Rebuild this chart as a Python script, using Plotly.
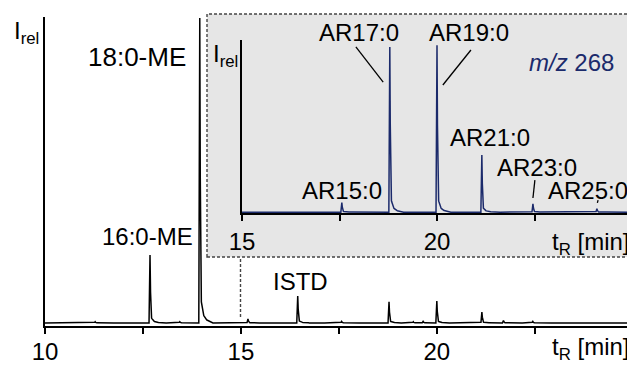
import numpy as np
import plotly.graph_objects as go

# ---------------- data ----------------
# main chromatogram (TIC), retention time [min] and relative peak height
main_rt = [11.28, 12.68, 13.44, 13.95, 15.18, 16.45, 17.57, 18.78, 19.40, 19.65, 20.00, 21.15, 21.70, 22.45]
main_h = [0.004, 0.220, 0.004, 0.987, 0.013, 0.087, 0.005, 0.068, 0.004, 0.005, 0.071, 0.035, 0.008, 0.005]
main_base = 0.010
main_labels = ["16:0-ME", "18:0-ME", "ISTD"]

# inset: m/z 268 trace
ins_rt = [17.56, 18.79, 20.00, 21.15, 22.46, 24.10]
ins_h = [0.055, 0.955, 0.965, 0.330, 0.048, 0.020]
ins_base = 0.005
ins_labels = ["AR15:0", "AR17:0", "AR19:0", "AR21:0", "AR23:0", "AR25:0"]

main_ticks = [10, 15, 20]
main_ticktext = ["10", "15", "20"]
main_minor = [12.5, 17.5, 22.5]
ins_ticks = [15, 20]
ins_ticktext = ["15", "20"]
ins_minor = [17.5, 22.5]

# ---------------- peak rendering (tailing peak profile) ----------------
prof_dx = [-0.025, 0.0, 0.02, 0.04, 0.08, 0.15, 0.30]
prof_f = [0.0, 1.0, 0.18, 0.07, 0.03, 0.012, 0.0]


def chromatogram(t0, t1, rts, hs, base):
    grid = [np.linspace(t0, t1, 3000)]
    for rt in rts:
        grid.append(np.array([rt + d for d in prof_dx]))
    x = np.unique(np.concatenate(grid))
    x = x[(x >= t0) & (x <= t1)]
    y = np.full_like(x, base)
    for rt, h in zip(rts, hs):
        y += h * np.interp(x - rt, prof_dx, prof_f, left=0, right=0)
    return x, y


OFF = 8  # the page body adds an 8px margin; figure is shrunk so it fits the window
W, H = 635 - OFF, 365 - OFF
FONT = "Liberation Sans, Arial, Helvetica, sans-serif"
NAVY = "#1b2a6b"
DASH = dict(color="#444444", width=1.4, dash="3px,2px")


def px(x):
    return (x - OFF) / W


def py(y):
    return (H - (y - OFF)) / H


mx, my = chromatogram(10, 24.93, main_rt, main_h, main_base)
ix, iy = chromatogram(15, 25.0, ins_rt, ins_h, ins_base)

fig = go.Figure()
fig.add_trace(go.Scatter(x=mx, y=my, mode="lines", line=dict(color="black", width=1.5),
                         xaxis="x", yaxis="y", hoverinfo="skip"))
fig.add_trace(go.Scatter(x=ix, y=iy, mode="lines", line=dict(color=NAVY, width=1.5),
                         xaxis="x2", yaxis="y2", hoverinfo="skip"))

axis_common = dict(showgrid=False, zeroline=False, showline=True, linecolor="black",
                   linewidth=2, fixedrange=True, automargin=False)
tick_style = dict(ticks="outside", ticklen=6, tickwidth=2, tickcolor="black")

fig.update_layout(
    template="none",
    width=W, height=H,
    margin=dict(l=0, r=0, t=0, b=0, pad=0, autoexpand=False),
    paper_bgcolor="white", plot_bgcolor="rgba(0,0,0,0)",
    showlegend=False,
    font=dict(family=FONT, size=24, color="black"),
    xaxis=dict(domain=[px(45), px(630)], range=[10, 24.93], anchor="y",
               tickvals=main_ticks, ticktext=main_ticktext, ticklabelstandoff=-3,
               minor=dict(tickvals=main_minor, showgrid=False, **tick_style),
               tickfont=dict(size=24, family=FONT), **tick_style, **axis_common),
    yaxis=dict(domain=[py(326), py(17)], range=[0, 1.0], anchor="x",
               showticklabels=False, ticks="", **axis_common),
    xaxis2=dict(domain=[px(242), px(632)], range=[15, 25.0], anchor="y2",
                tickvals=ins_ticks, ticktext=ins_ticktext,
                minor=dict(tickvals=ins_minor, showgrid=False, **tick_style),
                tickfont=dict(size=24, family=FONT), **tick_style, **axis_common),
    yaxis2=dict(domain=[py(213), py(40)], range=[0, 1.0], anchor="x2",
                showticklabels=False, ticks="", **axis_common),
)

# inset box and zoom guide lines
fig.add_shape(type="rect", xref="paper", yref="paper",
              x0=px(207), x1=px(633), y0=py(257), y1=py(14),
              fillcolor="#e6e6e6", line=DASH, layer="below")
for xp in (240.5, 628):
    fig.add_shape(type="line", xref="paper", yref="paper", x0=px(xp), x1=px(xp),
                  y0=py(317), y1=py(257), line=DASH, layer="above")

# leader lines in the inset
leaders = [((17.92, 0.96), (18.62, 0.757), "solid"),
           ((20.87, 0.942), (20.15, 0.74), "solid"),
           ((22.51, 0.19), (22.46, 0.087), "solid"),
           ((24.13, 0.075), (24.10, 0.046), "dot")]
for (x0, y0), (x1, y1), d in leaders:
    fig.add_shape(type="line", xref="x2", yref="y2", x0=x0, y0=y0, x1=x1, y1=y1,
                  line=dict(color="black", width=1.3, dash=d))


def label(text, cx, cy, size=24, color="black", xanchor="center"):
    fig.add_annotation(text=text, x=px(cx), y=py(cy), xref="paper", yref="paper",
                       xanchor=xanchor, yanchor="middle", showarrow=False,
                       font=dict(size=size, color=color, family=FONT))


# main labels
label(main_labels[1], 137, 57, size=26)
label(main_labels[0], 147, 237)
label(main_labels[2], 300, 281)
label("I<sub>rel</sub>", 12, 33, xanchor="left")
label("t<sub>R</sub> [min]", 631, 348, xanchor="right")

# inset labels
label(ins_labels[1], 359, 33)
label(ins_labels[2], 469, 33)
label(ins_labels[3], 490, 137)
label(ins_labels[4], 537, 167)
label(ins_labels[0], 342, 190)
label(ins_labels[5], 588, 190)
label("<i>m/z</i> 268", 571, 62, color=NAVY)
label("I<sub>rel</sub>", 211, 56, xanchor="left")
label("t<sub>R</sub> [min]", 631, 243, xanchor="right")

fig.write_html("out.html")
